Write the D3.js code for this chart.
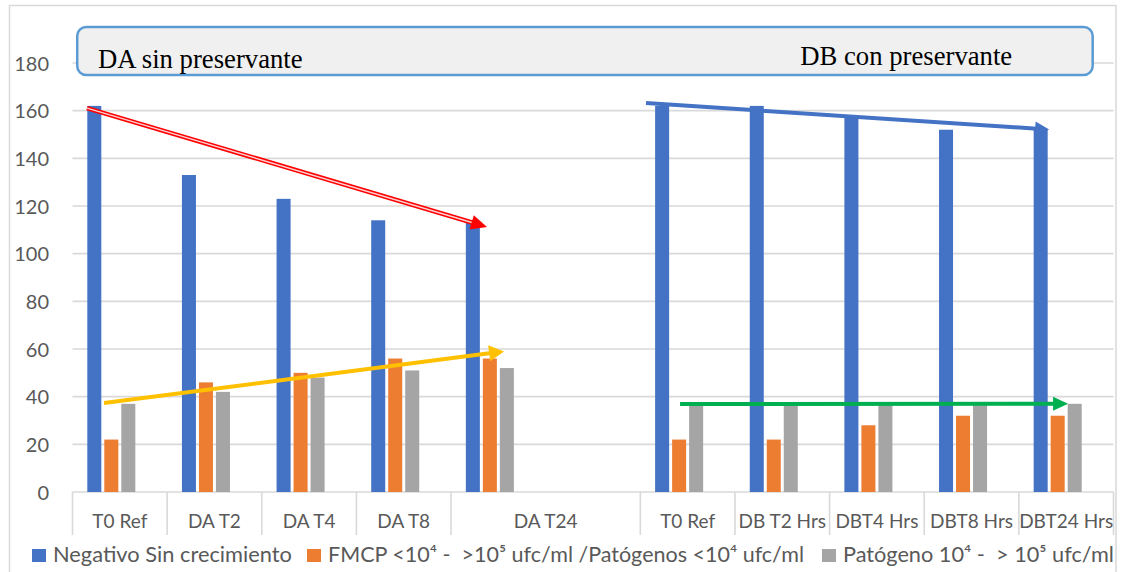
<!DOCTYPE html>
<html>
<head>
<meta charset="utf-8">
<script src="https://cdn.jsdelivr.net/npm/d3@7"></script>
<style>
  html, body { margin: 0; padding: 0; background: #ffffff; }
  svg { display: block; }
  text { white-space: pre; }
</style>
</head>
<body>
<svg id="chart" width="1124" height="572"></svg>
<script>
// ---------------- DATA ----------------
const categories = ["T0 Ref", "DA T2", "DA T4", "DA T8", "DA T24", "", "T0 Ref", "DB T2 Hrs", "DBT4 Hrs", "DBT8 Hrs", "DBT24 Hrs"];
const negativoSinCrecimiento = [162, 133, 123, 114, 113, null, 162, 162, 157, 152, 152];
const fmcp = [22, 46, 50, 56, 56, null, 22, 22, 28, 32, 32];
const patogeno = [37, 42, 48, 51, 52, null, 37, 37, 37, 37, 37];
const seriesNames = [
  "Negativo Sin crecimiento",
  "FMCP <10\u2074 -  >10\u2075 ufc/ml /Patógenos <10\u2074 ufc/ml",
  "Patógeno 10\u2074 -  > 10\u2075 ufc/ml"
];
const seriesColors = ["#4472c4", "#ed7d31", "#a5a5a5"];
const yTicks = [0, 20, 40, 60, 80, 100, 120, 140, 160, 180];
const groupLabels = ["DA sin preservante", "DB con preservante"];

// trend arrows (x in category units, y in data values)
const arrowRed = [[0.153, 161.1], [4.38, 111.2]];
const arrowYellow = [[0.333, 37.3], [4.56, 59]];
const arrowBlue = [[6.06, 163.2], [10.32, 152.1]];
const arrowGreen = [[6.42, 36.9], [10.52, 37]];

// ---------------- LAYOUT ----------------
const svg = d3.select("#chart");
const plotLeft = 72.5, plotRight = 1113.5, plotTop = 63, plotBottom = 492;

const x0 = d3.scaleBand().domain(d3.range(categories.length)).range([plotLeft, plotRight]).padding(0);
const xu = d3.scaleLinear().domain([0, categories.length]).range([plotLeft, plotRight]);
// the original chart has a hidden 4th series slot in each cluster
const x1 = d3.scaleBand().domain([0, 1, 2, 3]).range([14.8, x0.bandwidth() - 14.8]).paddingInner(0.176);
const y = d3.scaleLinear().domain([0, 180]).range([plotBottom, plotTop]);

const gridColor = "#d9d9d9";
const textColor = "#595959";
const fontSans = "Lato, 'Open Sans', sans-serif";

// outer chart border
svg.append("rect")
  .attr("x", 9.5).attr("y", 5.5).attr("width", 1106.5).attr("height", 620)
  .attr("fill", "none").attr("stroke", gridColor).attr("stroke-width", 1.5);

// gridlines
svg.append("g").selectAll("line").data(yTicks.filter(v => v > 0)).join("line")
  .attr("x1", plotLeft).attr("x2", plotRight)
  .attr("y1", d => y(d)).attr("y2", d => y(d))
  .attr("stroke", gridColor).attr("stroke-width", 1.6);

// y tick labels
svg.append("g").selectAll("text").data(yTicks).join("text")
  .attr("x", 49).attr("y", d => y(d) + 7.5)
  .attr("text-anchor", "end")
  .attr("font-family", fontSans).attr("font-size", 20)
  .attr("fill", textColor)
  .text(d => d);

// category axis line
svg.append("line")
  .attr("x1", plotLeft).attr("x2", plotRight)
  .attr("y1", plotBottom).attr("y2", plotBottom)
  .attr("stroke", gridColor).attr("stroke-width", 1.6);

// category dividers (skip the boundary before an empty category: merged label)
const dividers = d3.range(categories.length + 1).filter(i => !(i < categories.length && categories[i] === ""));
svg.append("g").selectAll("line").data(dividers).join("line")
  .attr("x1", i => xu(i)).attr("x2", i => xu(i))
  .attr("y1", plotBottom).attr("y2", 535)
  .attr("stroke", gridColor).attr("stroke-width", 1.6);

// category labels
const labelData = categories.map((c, i) => {
  const span = (i + 1 < categories.length && categories[i + 1] === "") ? 2 : 1;
  return { c, i, span };
}).filter(d => d.c !== "");
svg.append("g").selectAll("text").data(labelData).join("text")
  .attr("x", d => xu(d.i + d.span / 2)).attr("y", 528)
  .attr("text-anchor", "middle")
  .attr("font-family", fontSans).attr("font-size", 19)
  .attr("fill", textColor)
  .text(d => d.c);

// bars
const allSeries = [negativoSinCrecimiento, fmcp, patogeno];
const barsG = svg.append("g");
allSeries.forEach((vals, s) => {
  barsG.append("g").selectAll("rect")
    .data(vals.map((v, i) => ({ v, i })).filter(d => d.v != null))
    .join("rect")
    .attr("x", d => x0(d.i) + x1(s))
    .attr("width", x1.bandwidth())
    .attr("y", d => y(d.v))
    .attr("height", d => y(0) - y(d.v))
    .attr("fill", seriesColors[s]);
});

// header box
const boxX1 = xu(0.05), boxX2 = xu(10.78), boxY1 = y(195.1), boxY2 = y(175.0);
svg.append("rect")
  .attr("x", boxX1).attr("y", boxY1)
  .attr("width", boxX2 - boxX1).attr("height", boxY2 - boxY1)
  .attr("rx", 9).attr("ry", 9)
  .attr("fill", "#f0f0f0").attr("stroke", "#5b9bd5").attr("stroke-width", 2.5);

svg.append("text")
  .attr("x", xu(0.27)).attr("y", y(177.9))
  .attr("font-family", "'Liberation Serif', 'Times New Roman', serif")
  .attr("font-size", 26.7).attr("fill", "#000")
  .text(groupLabels[0]);
svg.append("text")
  .attr("x", xu(7.69)).attr("y", y(179.2))
  .attr("font-family", "'Liberation Serif', 'Times New Roman', serif")
  .attr("font-size", 26.7).attr("fill", "#000")
  .text(groupLabels[1]);

// arrows
function drawArrow(pts, color, width, headLen, headHalf, compound) {
  const [ax, ay] = [xu(pts[0][0]), y(pts[0][1])];
  const [bx, by] = [xu(pts[1][0]), y(pts[1][1])];
  const dx = bx - ax, dy = by - ay, len = Math.hypot(dx, dy);
  const ux = dx / len, uy = dy / len, nx = -uy, ny = ux;
  const baseX = bx - ux * headLen, baseY = by - uy * headLen;
  const g = svg.append("g");
  g.append("line")
    .attr("x1", ax).attr("y1", ay).attr("x2", baseX + ux * 2).attr("y2", baseY + uy * 2)
    .attr("stroke", color).attr("stroke-width", width);
  if (compound) {
    g.append("line")
      .attr("x1", ax).attr("y1", ay).attr("x2", baseX + ux * 2).attr("y2", baseY + uy * 2)
      .attr("stroke", "#ffd0d0").attr("stroke-width", width * 0.3);
  }
  g.append("polygon")
    .attr("points", [
      [bx, by],
      [baseX + nx * headHalf, baseY + ny * headHalf],
      [baseX - nx * headHalf, baseY - ny * headHalf]
    ].map(p => p.join(",")).join(" "))
    .attr("fill", color);
}
drawArrow(arrowRed, "#ff0000", 4.5, 16, 7.5, true);
drawArrow(arrowYellow, "#ffc000", 4, 15, 8, false);
drawArrow(arrowBlue, "#4472c4", 4, 14, 7, false);
drawArrow(arrowGreen, "#00b050", 4, 15, 7, false);

// legend
const legendY = 562;
const legendTextLen = [239, 476, 271];
let lx = 32;
const legend = svg.append("g");
seriesNames.forEach((name, i) => {
  legend.append("rect")
    .attr("x", lx).attr("y", legendY - 13).attr("width", 14).attr("height", 13)
    .attr("fill", seriesColors[i]);
  legend.append("text")
    .attr("x", lx + 21).attr("y", legendY)
    .attr("font-family", fontSans).attr("font-size", 21)
    .attr("fill", textColor)
    .attr("textLength", legendTextLen[i]).attr("lengthAdjust", "spacingAndGlyphs")
    .text(name);
  lx += 21 + legendTextLen[i] + (i === 0 ? 15 : 18);
});
</script>
</body>
</html>
